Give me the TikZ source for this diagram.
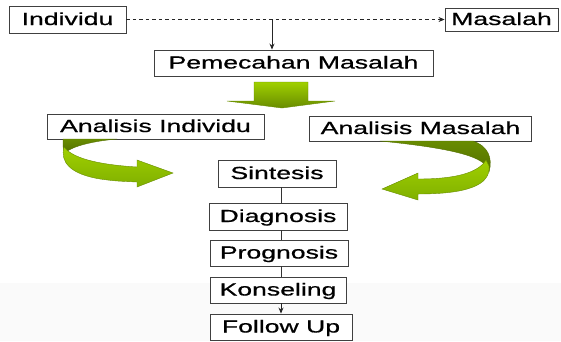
\documentclass[tikz,border=0pt]{standalone}
\usepackage{fontspec}
\setmainfont[FakeStretch=1.52,FakeBold=0.7]{Liberation Sans}
\usetikzlibrary{arrows.meta}

\definecolor{verdeclaro}{RGB}{160,208,0}
\definecolor{verdemedio}{RGB}{128,176,0}
\definecolor{verdeoscuro}{RGB}{104,140,0}
\definecolor{verdesombra}{RGB}{84,112,0}

\tikzset{
  caja/.style={draw=black!75, line width=0.9pt, fill=white, inner sep=0pt,
    minimum height=26pt, text height=12.5pt, text depth=1.5pt,
    font=\fontsize{17.5}{20}\selectfont},
  flecha/.style={-{Stealth[length=6pt,width=5pt]}, line width=0.8pt, draw=black!85},
  enlace/.style={line width=0.8pt, draw=black!80},
  cinta/.style={draw=verdeoscuro, line width=0.4pt, top color=verdeclaro, bottom color=verdemedio},
  sombra/.style={draw=verdesombra, line width=0.4pt, top color=verdeoscuro, bottom color=verdesombra},
}

\begin{document}
\begin{tikzpicture}[x=1pt,y=-1pt] % un pixel = un punto, y hacia abajo
  \useasboundingbox (0,0) rectangle (561,341);

  % Fondo gris muy claro abajo
  \fill[black!2] (0,283) rectangle (561,341);

  % Cajas de arriba
  \node[caja, minimum width=117pt, minimum height=27pt] (individu) at (67.5,19.5) {Individu};
  \node[caja, minimum width=113pt, minimum height=23pt] (masalah) at (501.5,19.5) {Masalah};
  \node[caja, minimum width=279pt] (pemecahan) at (293.5,63) {Pemecahan Masalah};

  % Linea discontinua y flecha hacia abajo
  \draw[flecha, dashed, dash pattern=on 3.5pt off 3pt, line width=0.6pt] (individu.east) -- (masalah.west);
  \coordinate (cruce) at (272,19.5);
  \draw[flecha] (cruce) -- (cruce |- pemecahan.north);

  % Flecha verde grande
  \path[draw=verdeoscuro, line width=0.4pt, top color=verdeclaro, bottom color=verdeoscuro]
    (254,82) -- (308,82) -- (308,101) -- (335,101) -- (282,108) -- (227,101) -- (254,101) -- cycle;

  % Cajas de analisis
  \node[caja, minimum width=217pt, minimum height=25pt] (anaind) at (155.5,126.5) {Analisis Individu};
  \node[caja, minimum width=222pt, minimum height=25pt] (anamas) at (420.5,128.5) {Analisis Masalah};

  % Flecha curva izquierda
  \path[sombra] (63,139) -- (117,139) .. controls (94,141) and (72,146) .. (65,153) .. controls (63,149) .. cycle;
  \path[cinta] (64,147) .. controls (60,162) and (70,174) .. (100,179) .. controls (115,181) .. (137,182)
    -- (137,187) -- (173,173) -- (137,160) -- (137,167) .. controls (105,165) and (74,160) .. (64,147) -- cycle;

  % Flecha curva derecha
  \path[sombra] (380,141) -- (473,141) .. controls (488,146) and (493,158) .. (489,172)
    .. controls (487,160) and (470,150) .. (380,141) -- cycle;
  \path[cinta] (489,166) .. controls (491,186) and (465,194) .. (418,194) -- (418,200) -- (382,189)
    -- (418,173) -- (418,179) .. controls (455,179) and (478,173) .. (486,160) -- cycle;

  % Cadena central
  \node[caja, minimum width=118pt, minimum height=27pt] (sintesis) at (277,173.5) {Sintesis};
  \node[caja, minimum width=138pt, minimum height=27pt] (diagnosis) at (278,216.5) {Diagnosis};
  \node[caja, minimum width=138pt] (prognosis) at (279,253) {Prognosis};
  \node[caja, minimum width=136pt] (konseling) at (278,290) {Konseling};
  \node[caja, minimum width=142pt] (followup) at (281,327) {Follow Up};

  % Lineas entre cajas
  \draw[enlace] (sintesis.south -| followup.north) -- (diagnosis.north -| followup.north);
  \draw[enlace] (diagnosis.south -| followup.north) -- (prognosis.north -| followup.north);
  \draw[enlace] (prognosis.south -| followup.north) -- (konseling.north -| followup.north);
  \draw[flecha] (konseling.south -| followup.north) -- (followup.north);

\end{tikzpicture}
\end{document}
